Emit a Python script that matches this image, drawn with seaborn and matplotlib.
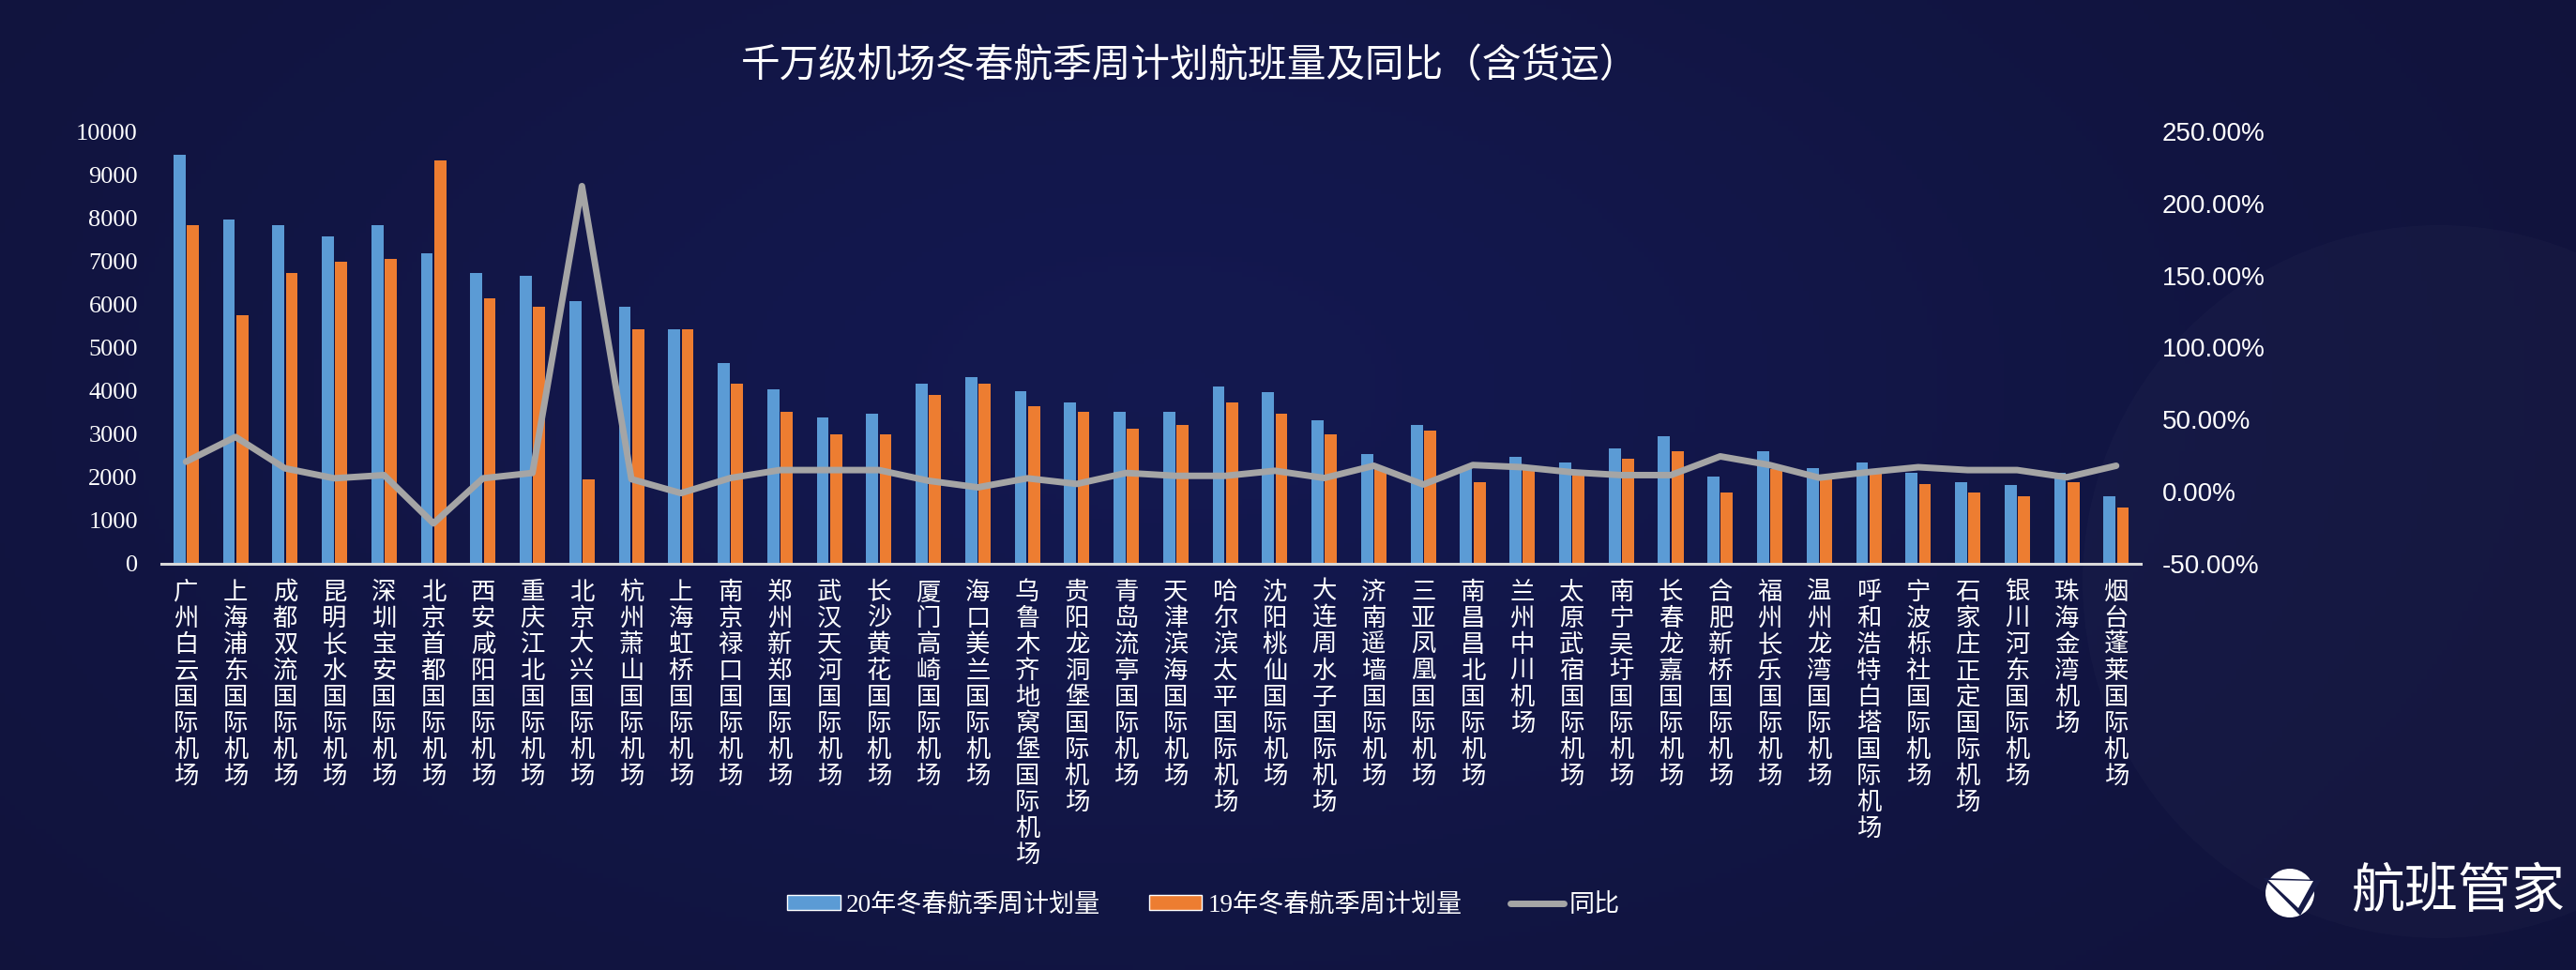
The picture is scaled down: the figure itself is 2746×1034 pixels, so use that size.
import numpy as np
import pandas as pd
import matplotlib
matplotlib.use("Agg")
import matplotlib.pyplot as plt
import seaborn as sns
from matplotlib.patches import Patch, Ellipse, Polygon
from matplotlib.lines import Line2D
from matplotlib.ticker import FuncFormatter, MultipleLocator

airports = ["广州白云国际机场", "上海浦东国际机场", "成都双流国际机场", "昆明长水国际机场",
            "深圳宝安国际机场", "北京首都国际机场", "西安咸阳国际机场", "重庆江北国际机场",
            "北京大兴国际机场", "杭州萧山国际机场", "上海虹桥国际机场", "南京禄口国际机场",
            "郑州新郑国际机场", "武汉天河国际机场", "长沙黄花国际机场", "厦门高崎国际机场",
            "海口美兰国际机场", "乌鲁木齐地窝堡国际机场", "贵阳龙洞堡国际机场", "青岛流亭国际机场",
            "天津滨海国际机场", "哈尔滨太平国际机场", "沈阳桃仙国际机场", "大连周水子国际机场",
            "济南遥墙国际机场", "三亚凤凰国际机场", "南昌昌北国际机场", "兰州中川机场",
            "太原武宿国际机场", "南宁吴圩国际机场", "长春龙嘉国际机场", "合肥新桥国际机场",
            "福州长乐国际机场", "温州龙湾国际机场", "呼和浩特白塔国际机场", "宁波栎社国际机场",
            "石家庄正定国际机场", "银川河东国际机场", "珠海金湾机场", "烟台蓬莱国际机场"]

plan_20 = [9460, 7960, 7830, 7570, 7830, 7180, 6720, 6660, 6070, 5940,
           5420, 4640, 4040, 3390, 3470, 4170, 4310, 3980, 3720, 3520,
           3520, 4110, 3970, 3320, 2540, 3200, 2200, 2480, 2350, 2670,
           2940, 2020, 2610, 2220, 2350, 2100, 1890, 1830, 2100, 1570]

plan_19 = [7830, 5740, 6720, 6980, 7050, 9330, 6140, 5940, 1950, 5420,
           5420, 4170, 3520, 3000, 3000, 3910, 4170, 3650, 3520, 3130,
           3200, 3720, 3470, 3000, 2190, 3070, 1890, 2170, 2070, 2420,
           2610, 1640, 2190, 2030, 2080, 1840, 1640, 1570, 1890, 1300]

# 同比, in percent
yoy = [20.8, 38.0, 16.2, 9.3, 11.5, -22.0, 9.3, 13.0, 212.0, 8.7,
       -1.0, 9.5, 15.0, 15.0, 15.0, 7.6, 3.0, 9.3, 5.4, 13.0,
       11.0, 11.0, 14.5, 9.5, 18.0, 5.0, 18.5, 17.0, 13.5, 11.5,
       11.5, 24.5, 18.5, 9.7, 13.6, 17.0, 15.0, 15.0, 10.0, 18.0]

series = ["20年冬春航季周计划量", "19年冬春航季周计划量"]
blue, orange, gray = "#5B9BD5", "#ED7D31", "#A5A5A5"

df = pd.DataFrame({
    "机场": airports * 2,
    "航班量": plan_20 + plan_19,
    "季度": [series[0]] * len(airports) + [series[1]] * len(airports),
})

sns.set_theme(style="white")
plt.rcParams['font.family'] = ['Noto Sans CJK SC', 'DejaVu Sans']

W, H = 2746, 1034
fig = plt.figure(figsize=(W / 100, H / 100), dpi=100)

# dark navy background with a soft glow
bg = fig.add_axes([0, 0, 1, 1], zorder=-10)
yy, xx = np.mgrid[1:0:200j, 0:1:500j]
glow = np.exp(-(((xx - 0.45) / 0.4) ** 2 + ((yy - 0.6) / 0.6) ** 2))
base = np.array([0.066, 0.075, 0.23])
hi = np.array([0.075, 0.095, 0.31])
bg.imshow(base + glow[..., None] * (hi - base), aspect='auto', extent=[0, 1, 0, 1])
bg.add_patch(Ellipse((2600 / W, 1 - 620 / H), 760 / W, 760 / H, facecolor="white",
                     alpha=0.018, edgecolor="none"))
bg.set_xlim(0, 1)
bg.set_ylim(0, 1)
bg.axis('off')

ax = fig.add_axes([0.0626, 0.4188, 0.7685, 0.4458])
ax.patch.set_alpha(0)
sns.barplot(data=df, x="机场", y="航班量", hue="季度", palette=[blue, orange],
            width=0.54, gap=0.1, saturation=1, linewidth=0, legend=False, ax=ax)

ax2 = ax.twinx()
ax2.patch.set_alpha(0)
sns.lineplot(x=np.arange(len(airports)), y=np.array(yoy) / 100, color=gray,
             linewidth=5, ax=ax2, solid_capstyle='round', solid_joinstyle='round')

ax.set_xlim(-0.5, len(airports) - 0.5)
ax.set_ylim(0, 10000)
ax.yaxis.set_major_locator(MultipleLocator(1000))
ax2.set_ylim(-0.5, 2.5)
ax2.yaxis.set_major_locator(MultipleLocator(0.5))
ax2.yaxis.set_major_formatter(FuncFormatter(lambda v, p: f"{v * 100:.2f}%"))

ax.set_xlabel("")
ax.set_ylabel("")
ax2.set_ylabel("")

for s in ax.spines.values():
    s.set_visible(False)
for s in ax2.spines.values():
    s.set_visible(False)
ax.spines['bottom'].set_visible(True)
ax.spines['bottom'].set_color("#D9D9D9")
ax.spines['bottom'].set_linewidth(2.2)

ax.set_xticks(range(len(airports)))
ax.set_xticklabels(["\n".join(a) for a in airports], fontsize=19, color="white",
                   va="top", linespacing=1.05)
ax.tick_params(axis='x', length=0, pad=12)
ax.tick_params(axis='y', length=0, pad=18, labelcolor="white")
for t in ax.get_yticklabels():
    t.set_fontfamily("Liberation Serif")
    t.set_fontsize(19)
ax2.tick_params(axis='y', length=0, pad=16, labelcolor="white")
for t in ax2.get_yticklabels():
    t.set_fontfamily("Liberation Sans")
    t.set_fontsize(20)

fig.text(0.462, 1 - 70 / H, "千万级机场冬春航季周计划航班量及同比（含货运）",
         ha="center", va="center", fontsize=30, fontweight="medium", color="white")

handles = [Patch(facecolor=blue, label=series[0]),
           Patch(facecolor=orange, label=series[1]),
           Line2D([], [], color=gray, linewidth=5, label="同比")]
fig.legend(handles=handles, loc="center", bbox_to_anchor=(1283 / W, 1 - 965 / H),
           ncol=3, frameon=False, labelcolor="white",
           handlelength=2.1, handleheight=0.55, handletextpad=0.22, columnspacing=1.9,
           prop={'family': ['Liberation Serif', 'Noto Sans CJK SC'], 'size': 19.5})

# brand mark
bg.add_patch(Ellipse((2441 / W, 1 - 952 / H), 52 / W, 52 / H, facecolor="white",
                     edgecolor="none"))
bg.add_patch(Polygon([[2413 / W, 1 - 936 / H], [2474 / W, 1 - 938 / H],
                      [2452 / W, 1 - 976 / H]], closed=True,
                     facecolor="#161b48", edgecolor="none"))
bg.add_patch(Polygon([[2418 / W, 1 - 938 / H], [2466 / W, 1 - 939 / H],
                      [2450 / W, 1 - 968 / H]], closed=True,
                     facecolor="white", edgecolor="none"))
fig.text(2734 / W, 1 - 951 / H, "航班管家", ha="right", va="center",
         fontsize=41, fontweight="medium", color="white")

fig.savefig("out.png", dpi=100)
